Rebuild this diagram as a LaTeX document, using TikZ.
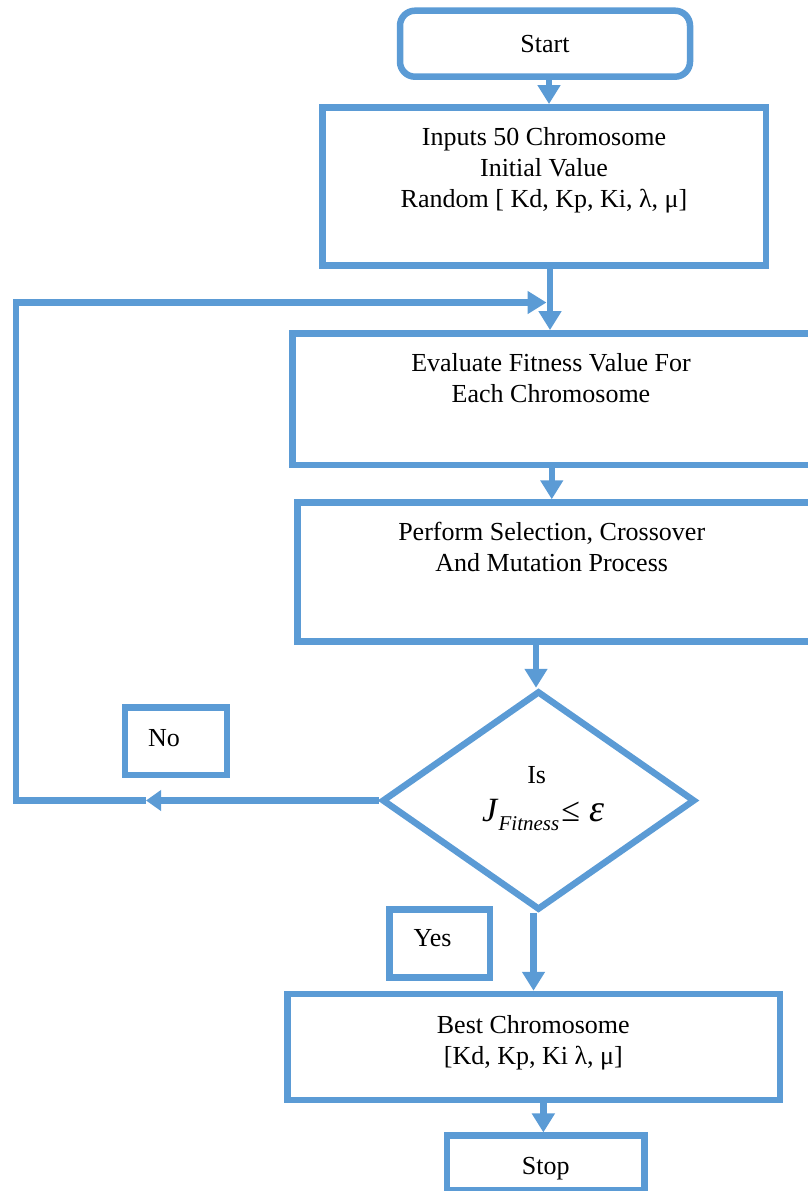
\documentclass[tikz,border=0pt]{standalone}
\usepackage{fontspec}
\setmainfont{Liberation Serif}
\usetikzlibrary{arrows.meta,shapes.geometric}
\definecolor{fc}{RGB}{91,155,213}
\begin{document}
\begin{tikzpicture}[x=1pt,y=-1pt,
  box/.style={draw=fc,line width=6.5pt,rectangle,inner sep=0pt},
  arr/.style={draw=fc,line width=6.5pt,-{Triangle[length=19pt,width=22pt]}},
  arrs/.style={draw=fc,line width=6.5pt,-{Triangle[length=15pt,width=20pt]}},
  txt/.style={font=\fontsize{26pt}{31pt}\selectfont,align=center,inner sep=0pt,anchor=base}]
\useasboundingbox (0,0) rectangle (808,1191);
\clip (0,0) rectangle (808,1191);
% boxes
\node[box,rounded corners=15pt,minimum width=290pt,minimum height=66pt] (start) at (545,43.7) {};
\node[box,minimum width=443.5pt,minimum height=158.4pt] (inputs) at (544.2,186.5) {};
\node[box,minimum width=527.5pt,minimum height=131.7pt] (eval) at (556.25,399.2) {};
\node[box,minimum width=522.5pt,minimum height=139pt] (perf) at (558.75,572) {};
\node[box,diamond,minimum width=313pt,minimum height=219pt] (dia) at (538.5,800.5) {};
\node[box,minimum width=102pt,minimum height=67.5pt] (no) at (176,741.25) {};
\node[box,minimum width=100.7pt,minimum height=68pt] (yes) at (439.65,943.3) {};
\node[box,minimum width=492.3pt,minimum height=106pt] (best) at (533.85,1047) {};
\node[box,minimum width=197.7pt,minimum height=54.3pt] (stop) at (545.85,1162.85) {};
% texts (base anchor = baseline of the last line)
\node[txt] (tstart) at (545,52) {Start};
\node[txt] (tinputs) at (544,207.6) {Inputs 50 Chromosome\\Initial Value\\Random [ Kd, Kp, Ki, λ, μ]};
\node[txt] (teval) at (551,402.6) {Evaluate Fitness Value For\\Each Chromosome};
\node[txt] (tperf) at (551.7,571.9) {Perform Selection, Crossover\\And Mutation Process};
\node[txt] (tis) at (536.7,783.6) {Is};
\node[anchor=base west,inner sep=0pt] (tform) at (482,821) {\fontsize{34pt}{34pt}\selectfont\textit{J}\raisebox{-9pt}{\fontsize{21pt}{21pt}\selectfont\textit{Fitness}}\hspace{2pt}{\fontsize{34pt}{34pt}\selectfont ≤}\hspace{10pt}{\fontsize{38pt}{38pt}\selectfont\itshape ε}};
\node[txt] (tno) at (164,746.6) {No};
\node[txt] (tyes) at (432.5,946.6) {Yes};
\node[txt] (tbest) at (533.3,1064) {Best Chromosome\\{}[Kd, Kp, Ki λ, μ]};
\node[txt] (tstop) at (545.7,1174.3) {Stop};
% connectors
\draw[arr] ([xshift=4pt]start.south) -- ([xshift=4pt]start.south |- inputs.north);
\draw[arr] ([xshift=5.8pt]inputs.south) -- ([xshift=5.8pt]inputs.south |- eval.north);
\draw[arr] ([xshift=-4.5pt]eval.south) -- ([xshift=-4.5pt]eval.south |- perf.north);
\draw[arr] ([xshift=-2.5pt]dia.north |- perf.south) -- ([xshift=-2.5pt]dia.north);
\draw[arr] ([xshift=-5pt]dia.south) -- ([xshift=-5pt]dia.south |- best.north);
\draw[arr] ([xshift=9.5pt]best.south) -- ([xshift=9.5pt]best.south |- stop.north);
% loop back
\coordinate (nomid) at (146,800.5);
\coordinate (cbl) at (16,800.5);
\coordinate (ctl) at (16,302.5);
\coordinate (join) at (546.5,302.5);
\draw[arrs] (dia.west) -- (nomid);
\draw[arr] (nomid) -- (cbl) -- (ctl) -- (join);
\end{tikzpicture}
\end{document}
